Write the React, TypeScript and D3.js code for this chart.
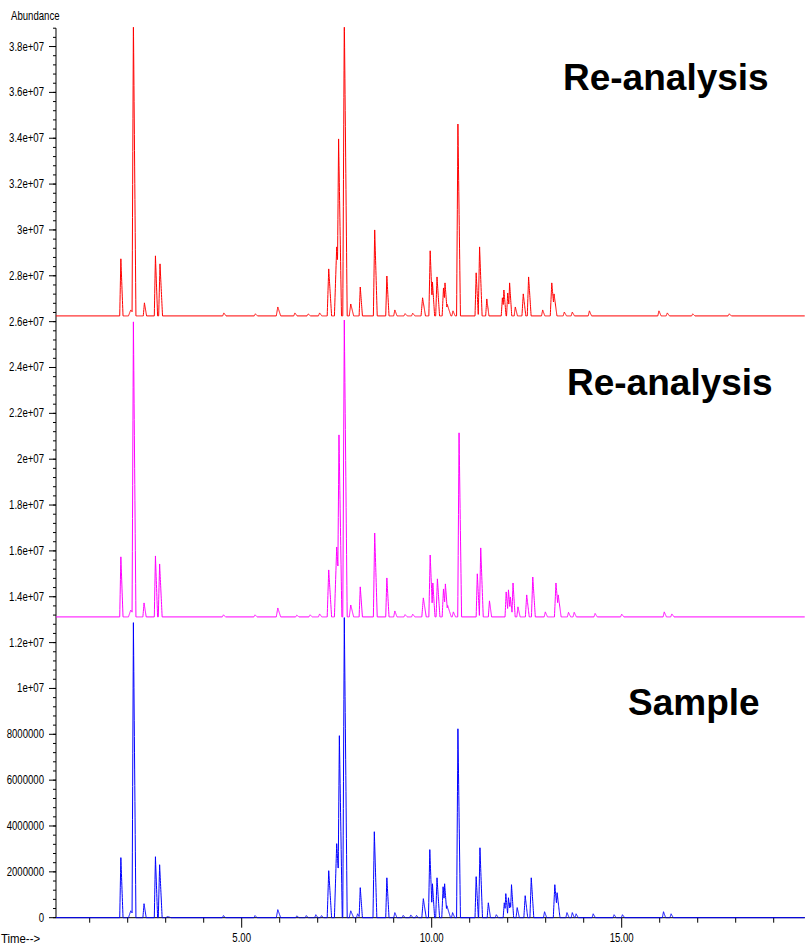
import React from "react";
import * as d3 from "d3";

// ---------- data ----------
// peaks: [retention time (min), abundance above baseline, half-width (min)]
const samplePeaks: [number, number, number][] = [
  [1.82, 2.62e6, 0.03], [2.08, 0.3e6, 0.06], [2.15, 12.87e6, 0.035], [2.43, 0.61e6, 0.03],
  [2.73, 2.66e6, 0.03], [2.84, 2.31e6, 0.035], [3.05, 0.05e6, 0.05], [4.52, 0.09e6, 0.03],
  [5.35, 0.09e6, 0.03], [5.95, 0.35e6, 0.04], [6.45, 0.08e6, 0.03], [6.7, 0.09e6, 0.03],
  [6.95, 0.13e6, 0.03], [7.1, 0.09e6, 0.03], [7.29, 2.05e6, 0.04], [7.5, 3.23e6, 0.06],
  [7.57, 7.94e6, 0.04], [7.7, 13.09e6, 0.04], [7.87, 0.3e6, 0.04], [8.05, 0.17e6, 0.03],
  [8.12, 1.31e6, 0.03], [8.49, 3.75e6, 0.035], [8.82, 1.74e6, 0.03], [9.03, 0.22e6, 0.03],
  [9.25, 0.1e6, 0.03], [9.45, 0.12e6, 0.03], [9.6, 0.1e6, 0.03], [9.78, 0.83e6, 0.04],
  [9.95, 2.97e6, 0.035], [10.02, 1.48e6, 0.03], [10.14, 1.74e6, 0.035], [10.3, 1.35e6, 0.035],
  [10.34, 1.48e6, 0.035], [10.4, 0.52e6, 0.05], [10.55, 0.22e6, 0.03], [10.69, 8.24e6, 0.035],
  [11.17, 1.79e6, 0.03], [11.27, 3.05e6, 0.035], [11.49, 0.65e6, 0.03], [11.7, 0.13e6, 0.03],
  [11.91, 0.65e6, 0.03], [11.95, 1.05e6, 0.03], [12.02, 0.87e6, 0.03], [12.06, 0.65e6, 0.03],
  [12.1, 1.44e6, 0.03], [12.25, 0.44e6, 0.03], [12.46, 0.96e6, 0.035], [12.62, 1.74e6, 0.035],
  [12.97, 0.26e6, 0.03], [13.24, 1.44e6, 0.04], [13.3, 1.09e6, 0.04], [13.56, 0.22e6, 0.03],
  [13.7, 0.22e6, 0.03], [13.8, 0.17e6, 0.03], [14.25, 0.17e6, 0.03], [14.8, 0.13e6, 0.03],
  [15.02, 0.13e6, 0.03], [16.1, 0.26e6, 0.03], [16.3, 0.17e6, 0.03],
];

const reanalysis2Peaks: [number, number, number][] = [
  [1.82, 2.62e6, 0.03], [2.08, 0.3e6, 0.06], [2.15, 12.87e6, 0.035], [2.43, 0.61e6, 0.03],
  [2.73, 2.66e6, 0.03], [2.84, 2.31e6, 0.035], [4.52, 0.09e6, 0.03], [5.35, 0.09e6, 0.03],
  [5.95, 0.39e6, 0.04], [6.45, 0.08e6, 0.03], [6.8, 0.09e6, 0.03], [7.05, 0.13e6, 0.03],
  [7.29, 2.05e6, 0.04], [7.5, 3.05e6, 0.06], [7.56, 7.94e6, 0.04], [7.7, 12.95e6, 0.04],
  [7.87, 0.52e6, 0.04], [8.12, 1.31e6, 0.03], [8.5, 3.66e6, 0.035], [8.82, 1.7e6, 0.03],
  [9.03, 0.26e6, 0.03], [9.3, 0.1e6, 0.03], [9.5, 0.12e6, 0.03], [9.78, 0.83e6, 0.04],
  [9.96, 2.7e6, 0.035], [10.03, 1.48e6, 0.03], [10.15, 1.66e6, 0.035], [10.31, 1.22e6, 0.035],
  [10.36, 1.44e6, 0.035], [10.42, 0.5e6, 0.05], [10.57, 0.22e6, 0.03], [10.72, 8.03e6, 0.035],
  [11.2, 1.88e6, 0.03], [11.29, 3.01e6, 0.035], [11.52, 0.7e6, 0.03], [11.96, 1.09e6, 0.03],
  [12.02, 1.18e6, 0.03], [12.07, 0.87e6, 0.03], [12.14, 1.48e6, 0.03], [12.27, 0.44e6, 0.03],
  [12.5, 0.96e6, 0.035], [12.66, 1.74e6, 0.035], [12.99, 0.22e6, 0.03], [13.27, 1.48e6, 0.04],
  [13.33, 0.96e6, 0.04], [13.6, 0.2e6, 0.03], [13.75, 0.2e6, 0.03], [14.3, 0.15e6, 0.03],
  [15.0, 0.12e6, 0.03], [16.12, 0.22e6, 0.03], [16.32, 0.13e6, 0.03],
];

const reanalysis1Peaks: [number, number, number][] = [
  [1.82, 2.49e6, 0.03], [2.08, 0.26e6, 0.06], [2.15, 12.9e6, 0.035], [2.44, 0.57e6, 0.03],
  [2.73, 2.62e6, 0.03], [2.85, 2.27e6, 0.035], [4.53, 0.13e6, 0.03], [5.36, 0.09e6, 0.03],
  [5.95, 0.39e6, 0.04], [6.4, 0.13e6, 0.03], [6.75, 0.09e6, 0.03], [7.05, 0.13e6, 0.03],
  [7.29, 2.05e6, 0.04], [7.5, 3.01e6, 0.06], [7.55, 7.72e6, 0.04], [7.7, 13.1e6, 0.04],
  [7.87, 0.52e6, 0.04], [8.12, 1.26e6, 0.03], [8.5, 3.75e6, 0.035], [8.82, 1.74e6, 0.03],
  [9.03, 0.26e6, 0.03], [9.3, 0.1e6, 0.03], [9.5, 0.12e6, 0.03], [9.76, 0.79e6, 0.04],
  [9.96, 2.84e6, 0.035], [10.02, 1.48e6, 0.03], [10.14, 1.7e6, 0.035], [10.31, 1.22e6, 0.035],
  [10.35, 1.44e6, 0.035], [10.41, 0.5e6, 0.05], [10.56, 0.22e6, 0.03], [10.69, 8.37e6, 0.035],
  [11.17, 1.88e6, 0.03], [11.26, 3.01e6, 0.035], [11.45, 0.74e6, 0.03], [11.86, 0.79e6, 0.03],
  [11.9, 1.13e6, 0.03], [12.0, 1.0e6, 0.03], [12.05, 1.44e6, 0.03], [12.2, 0.39e6, 0.03],
  [12.41, 0.96e6, 0.035], [12.55, 1.7e6, 0.035], [12.92, 0.26e6, 0.03], [13.16, 1.44e6, 0.04],
  [13.22, 0.96e6, 0.04], [13.49, 0.17e6, 0.03], [13.7, 0.17e6, 0.03], [14.15, 0.22e6, 0.03],
  [15.98, 0.22e6, 0.03], [16.2, 0.13e6, 0.03], [16.87, 0.09e6, 0.03], [17.83, 0.09e6, 0.03],
];

const traceNames = ["Re-analysis", "Re-analysis", "Sample"];
const traceOffsets = [2.625e7, 1.312e7, 0.0];
const traceColors = ["#ff0000", "#ff00ff", "#0000ff"];
const tracePeaks = [reanalysis1Peaks, reanalysis2Peaks, samplePeaks];

const yMajorTicks = [
  0, 2e6, 4e6, 6e6, 8e6, 1e7, 1.2e7, 1.4e7, 1.6e7, 1.8e7, 2e7, 2.2e7, 2.4e7, 2.6e7,
  2.8e7, 3e7, 3.2e7, 3.4e7, 3.6e7, 3.8e7,
];
const yTickLabels = [
  "0", "2000000", "4000000", "6000000", "8000000", "1e+07", "1.2e+07", "1.4e+07",
  "1.6e+07", "1.8e+07", "2e+07", "2.2e+07", "2.4e+07", "2.6e+07", "2.8e+07", "3e+07",
  "3.2e+07", "3.4e+07", "3.6e+07", "3.8e+07",
];
const xMajorTicks = [5, 10, 15];
const xTickLabels = ["5.00", "10.00", "15.00"];
const timeRange = [0.113, 19.82];
const abundanceMax = 3.88e7;

// ---------- chart ----------
const W = 805;
const H = 946;

export default function App() {
  const x = d3.scaleLinear().domain([0, 20]).range([51.7, 811.7]);
  const y = d3.scaleLinear().domain([0, abundanceMax]).range([917.7, 28.2]);
  const x0 = x(timeRange[0]);
  const x1 = x(timeRange[1]);

  const minorY = d3.range(0, abundanceMax + 1, 4e5);
  const minorX = d3.range(1, 20, 1);

  const tail = 1.9;
  const buildPath = (peaks: [number, number, number][], offset: number) => {
    const verts: number[] = [timeRange[0], timeRange[1]];
    peaks.forEach(([t, , w]) => verts.push(t - w, t, t + w * tail));
    // add intersection points between neighbouring peak flanks
    verts.sort((a, b) => a - b);
    const value = (tt: number) => {
      let s = 0;
      for (const [t, h, w] of peaks) {
        const f = tt <= t ? 1 - (t - tt) / w : 1 - (tt - t) / (w * tail);
        if (f > 0) s = Math.max(s, h * f);
      }
      return offset + s;
    };
    // refine between vertices so max() envelope is traced exactly
    const dense: number[] = [];
    for (let i = 0; i < verts.length - 1; i++) {
      const a = verts[i];
      const b = verts[i + 1];
      dense.push(a);
      const n = Math.ceil((b - a) / 0.004);
      if (n > 1 && b - a < 0.2) {
        for (let k = 1; k < n; k++) dense.push(a + ((b - a) * k) / n);
      }
    }
    dense.push(verts[verts.length - 1]);
    const pts = dense
      .filter((t) => t >= timeRange[0] && t <= timeRange[1])
      .map((t) => [t, value(t)] as [number, number]);
    return d3
      .line<[number, number]>()
      .x((d) => x(d[0]))
      .y((d) => y(d[1]))(pts) as string;
  };

  const labelFont = "'Liberation Sans', Arial, sans-serif";
  const smallScale = 0.8;

  return (
    <svg
      width={W}
      height={H}
      style={{ position: "absolute", left: 0, top: 0, background: "#fff" }}
    >
      <rect x={0} y={0} width={W} height={H} fill="#fff" />
      <defs>
        <clipPath id="plot">
          <rect x={x0} y={y(abundanceMax) - 1} width={x1 - x0} height={y(0) - y(abundanceMax) + 3} />
        </clipPath>
      </defs>

      {/* y axis */}
      <line x1={x0} x2={x0} y1={y(abundanceMax)} y2={y(0)} stroke="#000" strokeWidth={1} />
      {minorY.map((v, i) => (
        <line key={"ym" + i} x1={x0 - 3} x2={x0} y1={y(v)} y2={y(v)} stroke="#000" strokeWidth={1} />
      ))}
      {yMajorTicks.map((v, i) => (
        <g key={"yM" + i}>
          <line x1={x0 - 7} x2={x0} y1={y(v)} y2={y(v)} stroke="#000" strokeWidth={1} />
          <text
            transform={`translate(${x0 - 12},${y(v) + 4}) scale(${smallScale},1)`}
            textAnchor="end"
            fontFamily={labelFont}
            fontSize={12}
            fill="#000"
          >
            {yTickLabels[i]}
          </text>
        </g>
      ))}

      {/* x axis */}
      <line x1={x0} x2={x1} y1={y(0)} y2={y(0)} stroke="#000" strokeWidth={1} />
      {minorX.map((t) => (
        <line
          key={"xm" + t}
          x1={x(t)}
          x2={x(t)}
          y1={y(0)}
          y2={y(0) + (xMajorTicks.includes(t) ? 10 : 5)}
          stroke="#000"
          strokeWidth={1}
        />
      ))}
      {xMajorTicks.map((t, i) => (
        <text
          key={"xl" + i}
          transform={`translate(${x(t)},${y(0) + 24}) scale(${smallScale},1)`}
          textAnchor="middle"
          fontFamily={labelFont}
          fontSize={12}
          fill="#000"
        >
          {xTickLabels[i]}
        </text>
      ))}

      <text
        transform={`translate(11,20) scale(${smallScale},1)`}
        fontFamily={labelFont}
        fontSize={12}
        fill="#000"
      >
        Abundance
      </text>
      <text
        transform={`translate(1,943) scale(0.95,1)`}
        fontFamily={labelFont}
        fontSize={12}
        fill="#000"
      >
        Time--&gt;
      </text>

      {/* traces */}
      <g clipPath="url(#plot)">
        {tracePeaks.map((peaks, i) => (
          <path
            key={"tr" + i}
            d={buildPath(peaks, traceOffsets[i])}
            fill="none"
            stroke={traceColors[i]}
            strokeWidth={1}
            strokeLinejoin="round"
          />
        ))}
      </g>

      {/* trace titles */}
      <text x={563} y={90} fontFamily={labelFont} fontWeight="bold" fontSize={37} fill="#000">
        {traceNames[0]}
      </text>
      <text x={567} y={395} fontFamily={labelFont} fontWeight="bold" fontSize={37} fill="#000">
        {traceNames[1]}
      </text>
      <text x={628} y={715} fontFamily={labelFont} fontWeight="bold" fontSize={37} fill="#000">
        {traceNames[2]}
      </text>
    </svg>
  );
}
